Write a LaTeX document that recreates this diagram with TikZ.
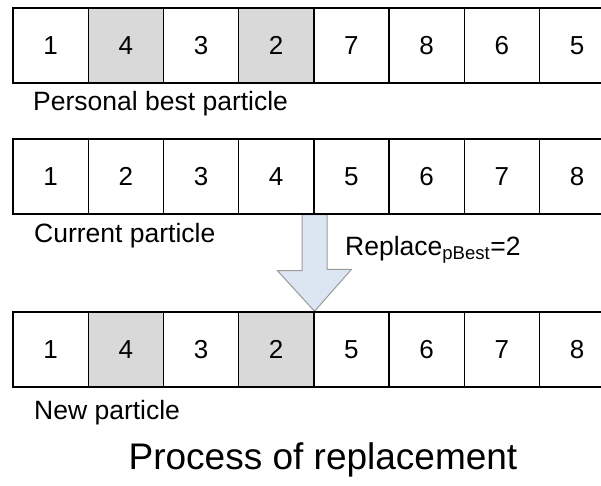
\documentclass[tikz,border=0pt]{standalone}
\usepackage{fontspec}
\setmainfont{Liberation Sans}
\usetikzlibrary{backgrounds}
\definecolor{cellgray}{HTML}{D9D9D9}
\definecolor{arrowfill}{HTML}{DCE6F2}
\definecolor{arrowline}{HTML}{9A9A9A}
\tikzset{
  cell/.style={draw, line width=1.4pt, minimum width=75.2pt, minimum height=75pt, inner sep=0pt,
    text height=18.5pt, text depth=0pt, font=\fontsize{26}{30}\selectfont},
  rowlabel/.style={anchor=west, inner sep=0pt, font=\fontsize{26.5}{30}\selectfont},
  bigarrow/.style={draw=arrowline, fill=arrowfill, line width=1pt, line join=miter}
}
\begin{document}
\begin{tikzpicture}[x=1pt, y=-1pt]
\useasboundingbox (0,0) rectangle (601,485);

% personal best particle
\foreach \v/\f [count=\i] in {1/white,4/cellgray,3/white,2/cellgray,7/white,8/white,6/white,5/white}
  \node[cell, fill=\f] (p\i) at ({75.2*\i-24.6},45.5) {\v};
\node[rowlabel] (plabel) at (33,104) {Personal best particle};

% current particle
\foreach \v [count=\i] in {1,2,3,4,5,6,7,8}
  \node[cell] (c\i) at ({75.2*\i-24.6},176.5) {\v};
\node[rowlabel] (clabel) at (34,236) {Current particle};

% new particle
\foreach \v/\f [count=\i] in {1/white,4/cellgray,3/white,2/cellgray,5/white,6/white,7/white,8/white}
  \node[cell, fill=\f] (n\i) at ({75.2*\i-24.6},349.5) {\v};
\node[rowlabel] (nlabel) at (34,413) {New particle};

\begin{scope}[on background layer]
\draw[bigarrow] ([xshift=-12.5pt]c4.south east) -- ++(0,56) -- ++(-24.5,0)
  -- (n4.north east) -- ++(37,-42) -- ++(-24.5,0) -- ([xshift=12.5pt]c4.south east) -- cycle;
\end{scope}
\node[rowlabel] (rlabel) at (345,250) {Replace\textsubscript{pBest}=2};

\node[font=\fontsize{37}{44}\selectfont] (title) at (323,460) {Process of replacement};
\end{tikzpicture}
\end{document}
